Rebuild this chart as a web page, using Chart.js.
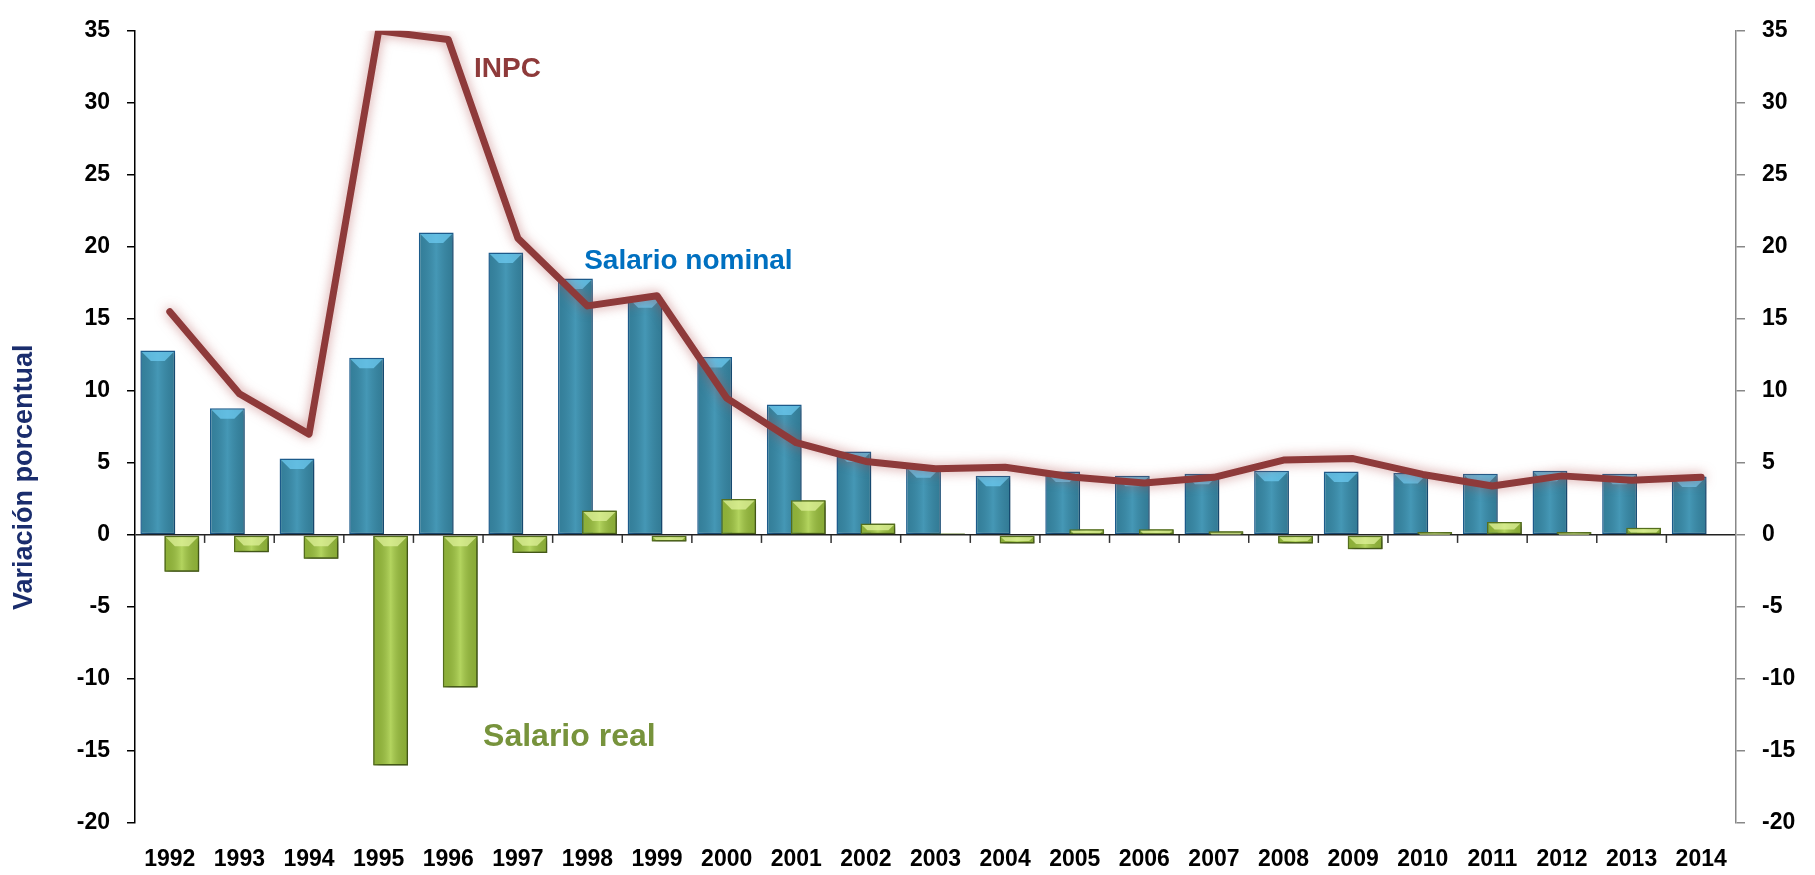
<!DOCTYPE html>
<html>
<head>
<meta charset="utf-8">
<script src="https://cdn.jsdelivr.net/npm/chart.js@4.4.1/dist/chart.umd.min.js"></script>
<style>
  html, body { margin: 0; padding: 0; background: #fff; }
  #wrap { width: 1815px; height: 875px; position: relative; }
</style>
</head>
<body>
<div id="wrap"><canvas id="salarios"></canvas></div>
<script>
const years = ["1992", "1993", "1994", "1995", "1996", "1997", "1998", "1999", "2000", "2001", "2002",
  "2003", "2004", "2005", "2006", "2007", "2008", "2009", "2010", "2011", "2012", "2013", "2014"];

// variación porcentual anual
const salarioNominal = [12.8, 8.8, 5.3, 12.3, 21.0, 19.6, 17.8, 16.5, 12.35, 9.05, 5.8, 4.7,
  4.1, 4.4, 4.1, 4.25, 4.45, 4.4, 4.3, 4.25, 4.45, 4.25, 4.05];
const salarioReal = [-2.55, -1.2, -1.65, -16.0, -10.6, -1.25, 1.7, -0.45, 2.5, 2.4, 0.8, 0.1,
  -0.6, 0.4, 0.4, 0.25, -0.6, -1.0, 0.2, 0.9, 0.2, 0.5, 0.0];
const inpc = [15.5, 9.8, 7.0, 35.0, 34.4, 20.6, 15.9, 16.6, 9.5, 6.4, 5.1, 4.6,
  4.7, 4.0, 3.6, 4.0, 5.2, 5.3, 4.2, 3.4, 4.1, 3.8, 4.0];

const yMin = -20;
const yMax = 35;
const yStep = 5;

// series labels written inside the plot: [text, category index, value]
const seriesNotes = [
  ["INPC", 4.85, 32.3],
  ["Salario nominal", 7.45, 19.0],
  ["Salario real", 5.74, -14.05],
];

const FONT = "'Liberation Sans', Arial, sans-serif";
const noteStyle = {
  "INPC": { color: "#8e3a3a", size: 28 },
  "Salario nominal": { color: "#0070c0", size: 28 },
  "Salario real": { color: "#77933c", size: 32 },
};

function barShadow(ctx) {
  ctx.shadowColor = "rgba(0,0,0,0.28)";
  ctx.shadowBlur = 5;
  ctx.shadowOffsetX = 3;
  ctx.shadowOffsetY = 3;
}

// sheen + top bevel over each bar of a dataset
function bevel(ctx, meta, light, sheen) {
  ctx.save();
  meta.data.forEach((bar) => {
    const p = bar.getProps(["x", "y", "base", "width"], true);
    const top = Math.min(p.y, p.base);
    const bottom = Math.max(p.y, p.base);
    const h = bottom - top;
    if (h < 1) return;
    const l = p.x - p.width / 2 + 1.5;
    const r = p.x + p.width / 2 - 1.5;
    const g = ctx.createLinearGradient(l, 0, r, 0);
    g.addColorStop(0, "rgba(0,0,0,0.10)");
    g.addColorStop(0.5, sheen);
    g.addColorStop(1, "rgba(0,0,0,0.12)");
    ctx.fillStyle = g;
    ctx.fillRect(l, top + 1.5, r - l, h - 3);
    const b = Math.min(9, h / 2);
    ctx.beginPath();
    ctx.moveTo(l, top + 1.5);
    ctx.lineTo(r, top + 1.5);
    ctx.lineTo(r - b, top + 1.5 + b);
    ctx.lineTo(l + b, top + 1.5 + b);
    ctx.closePath();
    ctx.fillStyle = light;
    ctx.globalAlpha = 0.75;
    ctx.fill();
    ctx.globalAlpha = 1;
  });
  ctx.restore();
}

const effects = {
  id: "effects",
  beforeDatasetDraw(chart, args) {
    const ctx = chart.ctx;
    ctx.save();
    if (args.meta.type === "line") {
      ctx.shadowColor = "rgba(175,75,75,0.6)";
      ctx.shadowBlur = 12;
    } else {
      barShadow(ctx);
    }
  },
  afterDatasetDraw(chart, args) {
    const ctx = chart.ctx;
    ctx.restore();
    if (args.meta.type !== "bar") return;
    const label = args.meta.label;
    if (label === "Salario real") {
      bevel(ctx, args.meta, "#dff29a", "rgba(230,250,170,0.3)");
      return;
    }
    bevel(ctx, args.meta, "#6cc9f0", "rgba(120,200,230,0.18)");
    // real wage bars sit in front of the nominal ones: draw them again on top
    const realMeta = chart.getDatasetMeta(1);
    ctx.save();
    barShadow(ctx);
    realMeta.data.forEach((el) => el.draw(ctx, chart.chartArea));
    ctx.restore();
    bevel(ctx, realMeta, "#dff29a", "rgba(230,250,170,0.3)");
  },
  afterDraw(chart) {
    const ctx = chart.ctx;
    const x = chart.scales.x;
    const y = chart.scales.y;
    const y0 = y.getPixelForValue(0);
    ctx.save();
    // category tick marks under the zero line
    ctx.strokeStyle = "#333";
    ctx.lineWidth = 1.5;
    for (let i = 1; i < years.length; i++) {
      const px = (x.getPixelForValue(i - 1) + x.getPixelForValue(i)) / 2;
      ctx.beginPath();
      ctx.moveTo(px, y0);
      ctx.lineTo(px, y0 + 8);
      ctx.stroke();
    }
    // series labels
    ctx.textAlign = "center";
    ctx.textBaseline = "middle";
    seriesNotes.forEach(([text, idx, val]) => {
      const s = noteStyle[text];
      ctx.font = `bold ${s.size}px ${FONT}`;
      ctx.fillStyle = s.color;
      ctx.fillText(text, x.getPixelForValue(idx), y.getPixelForValue(val));
    });
    // axis title
    ctx.translate(25, y.getPixelForValue(4));
    ctx.rotate(-Math.PI / 2);
    ctx.font = `bold 27px ${FONT}`;
    ctx.fillStyle = "#1a2d6d";
    ctx.fillText("Variación porcentual", 0, 0);
    ctx.restore();
  },
};

const tickFont = { family: FONT, size: 23, weight: "bold" };

new Chart(document.getElementById("salarios"), {
  type: "bar",
  data: {
    labels: years,
    datasets: [
      {
        label: "Salario nominal",
        data: salarioNominal,
        backgroundColor: "#3a8dab",
        borderColor: "#1d5d8e",
        borderWidth: 1.5,
        borderSkipped: false,
        barPercentage: 1.45,
        categoryPercentage: 0.69,
        order: 1,
      },
      {
        label: "Salario real",
        data: salarioReal,
        backgroundColor: "#9dc43e",
        borderColor: "#56701e",
        borderWidth: 1.5,
        borderSkipped: false,
        barPercentage: 1.45,
        categoryPercentage: 0.69,
        order: 2,
      },
      {
        type: "line",
        label: "INPC",
        data: inpc,
        borderColor: "#8e3a3a",
        borderWidth: 7,
        borderJoinStyle: "round",
        borderCapStyle: "round",
        pointRadius: 0,
        tension: 0,
        order: 0,
      },
    ],
  },
  options: {
    responsive: true,
    maintainAspectRatio: false,
    animation: false,
    layout: { padding: { top: 17, left: 0, right: 0, bottom: 0 } },
    plugins: { legend: { display: false }, tooltip: { enabled: false } },
    scales: {
      x: {
        grid: { display: false, drawTicks: false },
        border: { display: false },
        ticks: { font: tickFont, color: "#000", padding: 23, maxRotation: 0 },
        afterFit: (s) => { s.height = 52; },
      },
      y: {
        position: "left",
        min: yMin,
        max: yMax,
        ticks: { stepSize: yStep, font: tickFont, color: "#000", padding: 17 },
        grid: {
          color: (c) => (c.tick.value === 0 ? "#222" : "rgba(0,0,0,0)"),
          lineWidth: 1.5,
          tickLength: 8,
          tickColor: "#000",
        },
        border: { color: "#000", width: 1.5 },
        afterFit: (s) => { s.width = 135; },
      },
      y2: {
        position: "right",
        min: yMin,
        max: yMax,
        ticks: { stepSize: yStep, font: tickFont, color: "#000", padding: 17 },
        grid: { drawOnChartArea: false, tickLength: 9, tickColor: "#888", lineWidth: 1.5 },
        border: { color: "#888", width: 1.5 },
        afterFit: (s) => { s.width = 79; },
      },
    },
  },
  plugins: [effects],
});
</script>
</body>
</html>
